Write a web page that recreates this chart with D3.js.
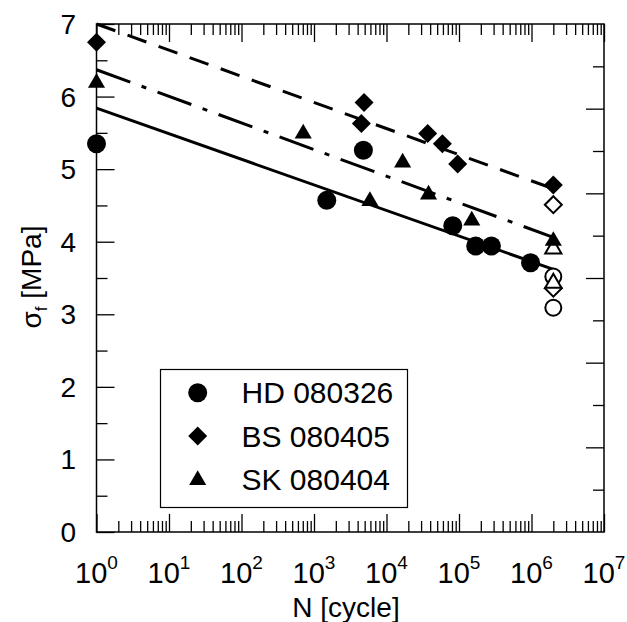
<!DOCTYPE html>
<html>
<head>
<meta charset="utf-8">
<script src="https://cdn.jsdelivr.net/npm/d3@7"></script>
<style>
  body { margin: 0; background: #fff; }
  text { font-family: "Liberation Sans", Arial, sans-serif; fill: #000; }
</style>
</head>
<body>
<div id="graph"></div>
<script>
// N [cycle] vs sigma_f [MPa], three test series + power-law fits

var seriesNames = ["HD 080326", "BS 080405", "SK 080404"];

// HD 080326 (circles)
var hdN = [1, 1500, 4800, 82000, 170000, 280000, 970000];
var hdS = [5.35, 4.57, 5.26, 4.22, 3.94, 3.94, 3.71];
var hdOpenN = [2e6, 2e6];
var hdOpenS = [3.52, 3.09];

// BS 080405 (diamonds)
var bsN = [1, 4500, 4900, 37000, 59000, 96000, 2e6];
var bsS = [6.75, 5.63, 5.92, 5.49, 5.35, 5.07, 4.78];
var bsOpenN = [2e6, 2e6];
var bsOpenS = [4.51, 3.36];

// SK 080404 (triangles)
var skN = [1, 710, 5900, 16700, 38000, 150000, 2e6];
var skS = [6.2, 5.5, 4.57, 5.10, 4.66, 4.30, 4.02];
var skOpenN = [2e6, 2e6];
var skOpenS = [3.91, 3.44];

// fitted lines (end points)
var fitN = [1, 2e6];
var hdFit = [5.84, 3.62];
var bsFit = [7.0, 4.73];
var skFit = [6.37, 4.06];

var xMajor = [1, 10, 100, 1000, 1e4, 1e5, 1e6, 1e7];
var xLabelExp = ["0", "1", "2", "3", "4", "5", "6", "7"];
var yMajor = [0, 1, 2, 3, 4, 5, 6, 7];

var width = 627;
var height = 622;
var plotL = 96.5, plotR = 604, plotT = 24, plotB = 532;

var svg = d3.select("#graph").
append("svg").
attr("width", width).
attr("height", height);

var xScale = d3.scaleLog().domain([1, 1e7]).range([plotL, plotR]);
var yScale = d3.scaleLinear().domain([0, 7]).range([plotB, plotT]);
var yRight = d3.scaleLinear().domain([0, 6]).range([plotB, plotT]);

// minor tick values
var xMinor = [];
for (var d = 0; d < 7; d++) {
   for (var k = 2; k < 10; k++) xMinor.push(k * Math.pow(10, d));
}
var yMinor = d3.range(0.5, 7, 1);
var yRMajor = d3.range(1, 6, 1);
var yRMinor = d3.range(0.5, 6, 1);

function tickAxis(axis, vals, size, transform) {
   var g = svg.append("g").
   attr("transform", transform).
   call(axis.tickValues(vals).tickSize(size).tickFormat(""));
   g.select(".domain").remove();
   g.selectAll(".tick line").attr("stroke", "#000").attr("stroke-width", 1.3);
   return g;
}

tickAxis(d3.axisBottom(xScale), xMajor, -18, "translate(0," + plotB + ")");
tickAxis(d3.axisBottom(xScale), xMinor, -11, "translate(0," + plotB + ")");
tickAxis(d3.axisTop(xScale), xMajor, -18, "translate(0," + plotT + ")");
tickAxis(d3.axisTop(xScale), xMinor, -11, "translate(0," + plotT + ")");
tickAxis(d3.axisLeft(yScale), yMajor, -18, "translate(" + plotL + ",0)");
tickAxis(d3.axisLeft(yScale), yMinor, -11, "translate(" + plotL + ",0)");
tickAxis(d3.axisRight(yRight), yRMajor, -18, "translate(" + plotR + ",0)");
tickAxis(d3.axisRight(yRight), yRMinor, -11, "translate(" + plotR + ",0)");

// frame
svg.append("rect").
attr("x", plotL).
attr("y", plotT).
attr("width", plotR - plotL).
attr("height", plotB - plotT).
attr("fill", "none").
attr("stroke", "#000").
attr("stroke-width", 1.5);

// x tick labels 10^n
var xl = svg.selectAll(".xlab").
data(xMajor).
enter().
append("text").
attr("class", "xlab").
attr("x", function (e) {return xScale(e);}).
attr("y", 583).
style("text-anchor", "middle").
style("font-size", "29px");
xl.append("tspan").text("10");
xl.append("tspan").
attr("dy", -14).
style("font-size", "19px").
text(function (e, i) {return xLabelExp[i];});

// y tick labels
svg.selectAll(".ylab").
data(yMajor).
enter().
append("text").
attr("class", "ylab").
attr("x", 76).
attr("y", function (e) {return yScale(e) + 10;}).
style("text-anchor", "end").
style("font-size", "28px").
text(function (e) {return e;});

// axis titles
svg.append("text").
attr("x", 346).
attr("y", 617).
style("text-anchor", "middle").
style("font-size", "28px").
text("N [cycle]");

var yt = svg.append("text").
attr("transform", "translate(41," + 277 + ") rotate(-90)").
style("text-anchor", "middle").
style("font-size", "28px");
yt.append("tspan").text("σ");
yt.append("tspan").attr("dy", 6).style("font-size", "17px").text("f");
yt.append("tspan").attr("dy", -6).text(" [MPa]");

// fit lines
var line = d3.line().
x(function (e) {return xScale(e[0]);}).
y(function (e) {return yScale(e[1]);});

function fitLine(vals, dash) {
   svg.append("path").
   datum(d3.zip(fitN, vals)).
   attr("d", line).
   attr("fill", "none").
   attr("stroke", "#000").
   attr("stroke-width", 3).
   attr("stroke-dasharray", dash);
}
fitLine(hdFit, null);
fitLine(bsFit, "20,13");
fitLine(skFit, "36,12,5,12");

// marker shapes
function shape(type, s) {
   if (type === "circle") {
      return d3.symbol(d3.symbolCircle, Math.PI * s * s)();
   }
   if (type === "diamond") {
      return "M0," + -s + "L" + s + ",0L0," + s + "L" + -s + ",0Z";
   }
   var h = s * 1.55;
   return "M0," + (-h * 0.62) + "L" + s * 0.9 + "," + h * 0.38 + "L" + -s * 0.9 + "," + h * 0.38 + "Z";
}

function markers(ns, ss, type, size, filled) {
   svg.append("g").
   selectAll("path").
   data(d3.zip(ns, ss)).
   enter().
   append("path").
   attr("transform", function (e) {return "translate(" + xScale(e[0]) + "," + yScale(e[1]) + ")";}).
   attr("d", shape(type, size)).
   attr("fill", filled ? "#000" : "#fff").
   attr("stroke", "#000").
   attr("stroke-width", filled ? 0 : 2);
}

markers(hdOpenN, hdOpenS, "circle", 8, false);
markers(bsOpenN, bsOpenS, "diamond", 8.5, false);
markers(skOpenN, skOpenS, "triangle", 9, false);
markers(hdN, hdS, "circle", 9.5, true);
markers(bsN, bsS, "diamond", 9.5, true);
markers(skN, skS, "triangle", 9.5, true);

// legend
svg.append("rect").
attr("x", 160.5).
attr("y", 369.5).
attr("width", 247).
attr("height", 138).
attr("fill", "#fff").
attr("stroke", "#000").
attr("stroke-width", 1.2);

var legendTypes = ["circle", "diamond", "triangle"];
var lg = svg.selectAll(".leg").
data(seriesNames).
enter().
append("g").
attr("class", "leg").
attr("transform", function (e, i) {return "translate(0," + (392.7 + i * 43.3) + ")";});

lg.append("path").
attr("transform", "translate(197.7,0)").
attr("d", function (e, i) {return shape(legendTypes[i], 9.5);}).
attr("fill", "#000");

lg.append("text").
attr("x", 241.5).
attr("y", 10.5).
style("font-size", "30px").
text(function (e) {return e;});
</script>
</body>
</html>
